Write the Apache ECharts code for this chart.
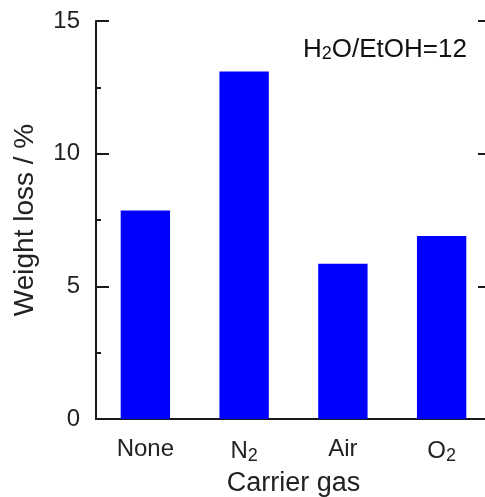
<!DOCTYPE html>
<html><head><meta charset="utf-8">
<script src="https://cdn.jsdelivr.net/npm/echarts@6/dist/echarts.min.js"></script>
<style>html,body{margin:0;padding:0;background:#fff}#c{width:485px;height:497px}</style>
</head><body><div id="c"></div>
<script>
const categories = ['None', 'N2', 'Air', 'O2'];
const weightLoss = [7.86, 13.1, 5.85, 6.9];
const yTicks = [0, 5, 10, 15];

const FONT = 'Liberation Sans, Arial, sans-serif';
const chart = echarts.init(document.getElementById('c'));
const axisColor = '#1a1a1a';
function catLabel(v) {
  const m = v.match(/^([A-Z][a-z]?)(\d)$/);
  return m ? '{n|' + m[1] + '}{s|' + m[2] + '}' : '{n|' + v + '}';
}
const richLbl = {
  n: { fontSize: 24, fontFamily: FONT, color: '#222' },
  s: { fontSize: 18, fontFamily: FONT, color: '#222', padding: [10, 0, 0, 0] }
};
const yCommon = {
  type: 'value', min: yTicks[0], max: yTicks[yTicks.length - 1], interval: 5,
  axisLine: { show: true, lineStyle: { color: axisColor, width: 2 } },
  axisTick: { show: true, inside: true, length: 13, lineStyle: { color: axisColor, width: 2 } },
  minorTick: { show: true, splitNumber: 2, length: 5, lineStyle: { color: axisColor, width: 2 } },
  splitLine: { show: false }
};
chart.setOption({
  animation: false,
  grid: { left: 96, top: 21, width: 395, height: 398, containLabel: false, outerBoundsMode: 'none' },
  xAxis: [{
    type: 'category', data: categories,
    axisLine: { lineStyle: { color: axisColor, width: 2 } },
    axisTick: { show: false },
    axisLabel: { formatter: catLabel, rich: richLbl, margin: 18 },
    name: 'Carrier gas', nameLocation: 'middle', nameGap: 51,
    nameTextStyle: { fontSize: 27, fontFamily: FONT, color: '#222' }
  }, {
    type: 'category', data: categories, position: 'top',
    axisLine: { lineStyle: { color: axisColor, width: 2 } },
    axisTick: { show: false }, axisLabel: { show: false }
  }],
  yAxis: [Object.assign({}, yCommon, {
    position: 'left',
    axisLabel: { fontSize: 24, fontFamily: FONT, color: '#222', margin: 16 },
    name: 'Weight loss / %', nameLocation: 'middle', nameGap: 57,
    nameTextStyle: { fontSize: 28, fontFamily: FONT, color: '#222' }
  }), Object.assign({}, yCommon, {
    position: 'right', axisLabel: { show: false }
  })],
  graphic: [{
    type: 'text', left: 303, top: 37,
    style: {
      text: '{n|H}{s|2}{n|O/EtOH=12}',
      rich: {
        n: { fontSize: 26, fontFamily: FONT, fill: '#111' },
        s: { fontSize: 18, fontFamily: FONT, fill: '#111', padding: [8, 0, 0, 0] }
      }
    }
  }],
  series: [{
    type: 'bar', data: weightLoss, barWidth: '50%',
    itemStyle: { color: '#0000ff' }
  }]
});
</script></body></html>
